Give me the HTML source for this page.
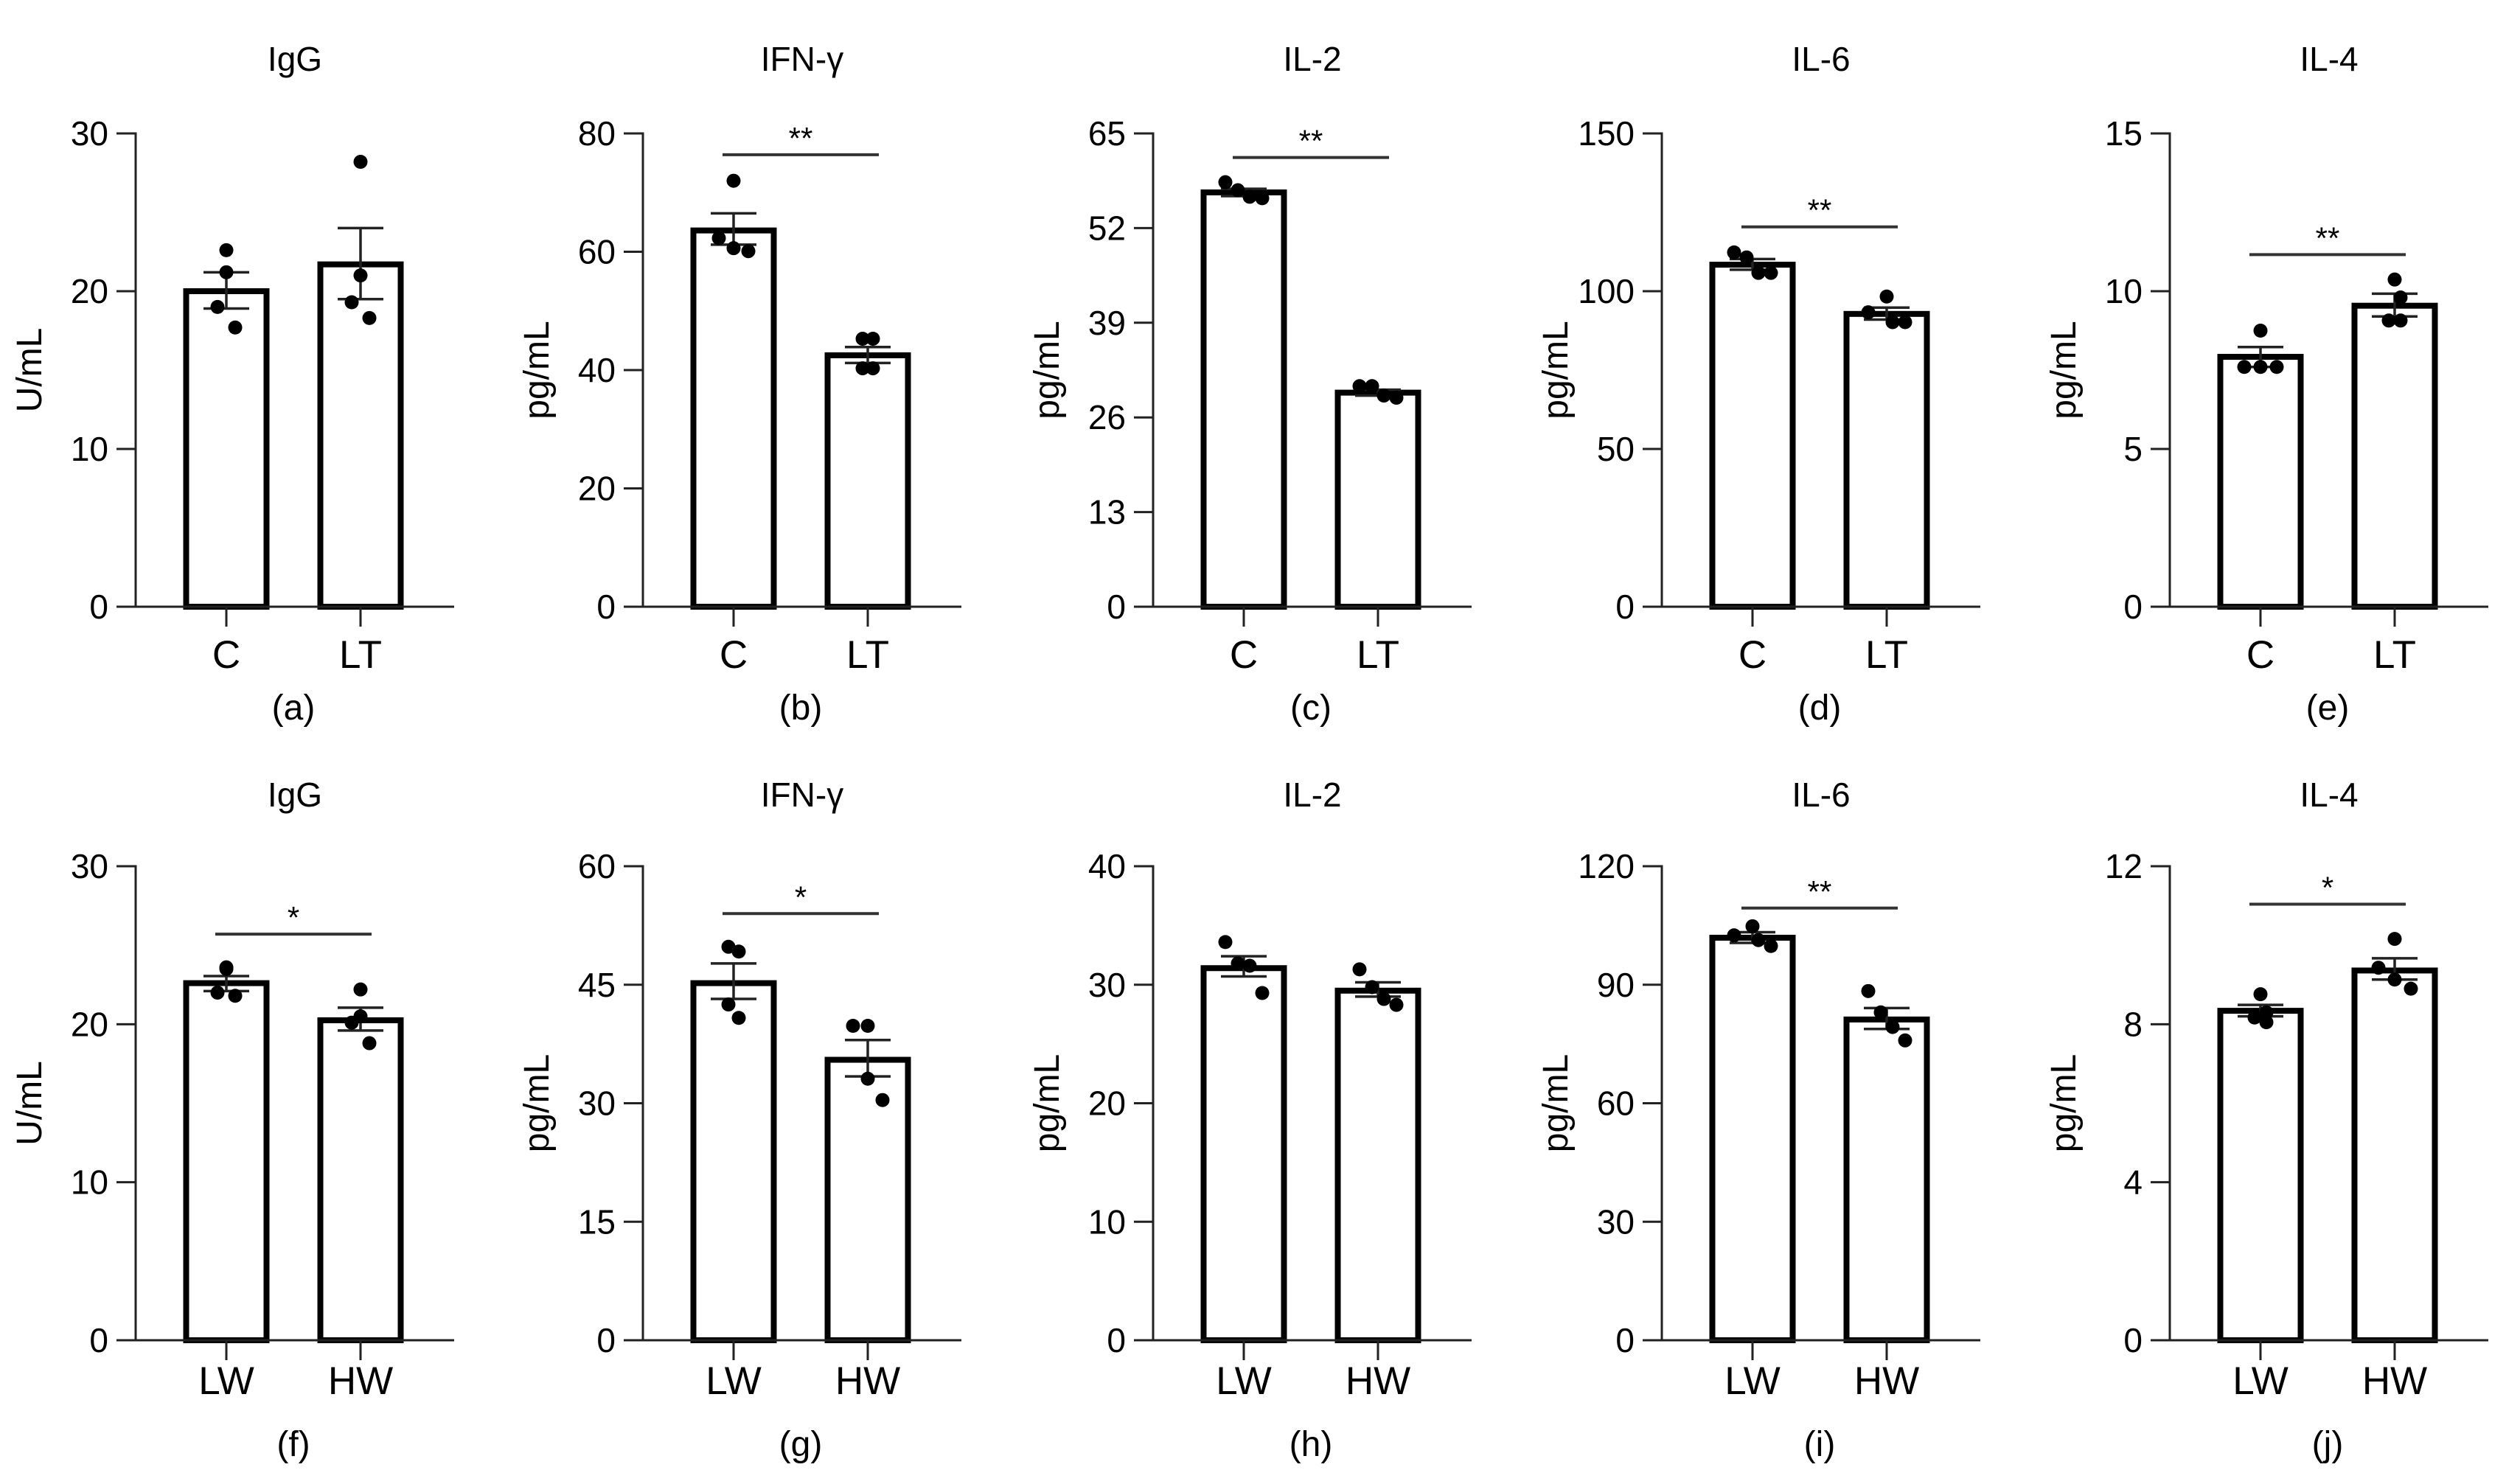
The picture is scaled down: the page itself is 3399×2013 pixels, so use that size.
<!DOCTYPE html>
<html><head><meta charset="utf-8">
<style>
html,body{margin:0;padding:0;background:#fff;}
svg{display:block;font-family:"Liberation Sans",Arial,sans-serif;}
</style></head>
<body>
<svg id="fig" width="3399" height="2013" viewBox="0 0 3399 2013" xmlns="http://www.w3.org/2000/svg"></svg>
<script>
const titles = ["IgG","IFN-γ","IL-2","IL-6","IL-4","IgG","IFN-γ","IL-2","IL-6","IL-4"];
const panelLetters = ["(a)","(b)","(c)","(d)","(e)","(f)","(g)","(h)","(i)","(j)"];
const yLabels = ["U/mL","pg/mL","pg/mL","pg/mL","pg/mL","U/mL","pg/mL","pg/mL","pg/mL","pg/mL"];
const catsTop = ["C","LT"];
const catsBottom = ["LW","HW"];
const yMax = [30,80,65,150,15,30,60,40,120,12];
const yStep = [10,20,13,50,5,10,15,10,30,4];
const means1 = [20.0,63.6,56.9,108.4,7.92,22.6,45.2,31.4,101.9,8.34];
const errLo1 = [18.9,61.2,56.4,106.8,7.6,22.1,43.2,30.7,100.6,8.2];
const errHi1 = [21.2,66.5,57.4,110.2,8.23,23.05,47.7,32.4,103.3,8.49];
const means2 = [21.7,42.5,29.4,92.8,9.54,20.25,35.5,29.5,81.2,9.36];
const errLo2 = [19.5,41.2,29.0,91.0,9.2,19.6,33.4,29.0,78.8,9.13];
const errHi2 = [24.0,43.9,29.8,94.8,9.92,21.05,38.0,30.2,84.1,9.67];
const pts1 = [[22.6,21.2,19.0,17.7],[72,62.3,60.6,60.1],[58.3,57.2,56.3,56.1],[112.3,110.7,105.8,105.8],[8.75,7.6,7.6,7.6],
              [23.6,23.5,22.0,21.8],[49.8,49.2,42.5,40.8],[33.6,31.8,31.6,29.3],[104.8,102.5,101.3,99.8],[8.76,8.3,8.17,8.05]];
const pts2 = [[28.2,21.0,19.3,18.3],[45.3,45.3,40.3,40.3],[30.3,30.3,29.0,28.7],[98.3,93.3,90.2,90.2],[10.37,9.8,9.07,9.07],
              [22.2,20.5,20.1,18.8],[39.8,39.8,33.1,30.4],[31.3,29.8,28.8,28.3],[88.4,83.0,79.3,75.9],[10.16,9.43,9.13,8.9]];
const sigLevel = [null,76.4,61.7,120.4,11.16,25.7,54,null,109.4,11.04];
const sigText = ["","**","**","**","**","*","*","","**","*"];

const NS="http://www.w3.org/2000/svg";
const svg=document.getElementById('fig');
const axX=[184,872,1564,2254,2943];
const rowTop=[181,1175], rowZero=[823,1818];
const catLabelY=[906,1891], letterY=[976,1975], titleY=[96,1094];
const jitter1=[[0,0,-12,12],[0,-20,0,20],[-25,-8,8,25],[-25,-8,8,25],[0,-22,0,22]];
const jitter2=[[0,0,-12,12],[-7,7,-7,7],[-25,-8,8,25],[0,-25,8,25],[0,8,-8,8]];

function el(tag,attrs,parent){const e=document.createElementNS(NS,tag);for(const k in attrs)e.setAttribute(k,attrs[k]);(parent||svg).appendChild(e);return e;}

for(let p=0;p<10;p++){
  const row=Math.floor(p/5), col=p%5;
  const ax=axX[col], top=rowTop[row], zero=rowZero[row];
  const ys=v=>zero-(v/yMax[p])*(zero-top);
  const g=el('g',{});
  
  
  const t=el('text',{x:ax+216,y:titleY[row],'text-anchor':'middle','font-size':46},g);
  t.textContent=titles[p];
  
  
  const ya=el('line',{x1:ax,y1:top-1.5,x2:ax,y2:zero,stroke:'#222','stroke-width':3},g);
  
  
  for(let v=0;v<=yMax[p]+1e-9;v+=yStep[p]){
    const y=ys(v);
    el('line',{x1:ax-26,y1:y,x2:ax,y2:y,stroke:'#222','stroke-width':3},g);
    const tl=el('text',{x:ax-37,y:y+16,'text-anchor':'end','font-size':46},g);
    tl.textContent=String(Math.round(v));
    
    
  }
  const yl=el('text',{transform:`translate(${ax-128},${(top+zero)/2}) rotate(-90)`,'text-anchor':'middle','font-size':48},g);
  yl.textContent=yLabels[p];
  
  
  const centers=[ax+123,ax+305];
  const cats=row===0?catsTop:catsBottom;
  const means=[means1[p],means2[p]], lo=[errLo1[p],errLo2[p]], hi=[errHi1[p],errHi2[p]], pts=[pts1[p],pts2[p]];
  const jit=[row===0?jitter1[col]:jitter2[col], row===0?jitter2[col]:jitter1[col]];
  for(let b=0;b<2;b++){
    const cx=centers[b], yt=ys(means[b]);
    const r=el('rect',{x:cx-54.5,y:yt,width:109,height:zero-yt,fill:'#fff',stroke:'#000','stroke-width':8},g);
    
    
    el('line',{x1:cx,y1:ys(hi[b]),x2:cx,y2:ys(lo[b]),stroke:'#222','stroke-width':3.5},g);
    el('line',{x1:cx-31,y1:ys(hi[b]),x2:cx+31,y2:ys(hi[b]),stroke:'#222','stroke-width':3.5},g);
    el('line',{x1:cx-31,y1:ys(lo[b]),x2:cx+31,y2:ys(lo[b]),stroke:'#222','stroke-width':3.5},g);
    pts[b].forEach((v,i)=>{
      const c=el('circle',{cx:cx+jit[b][i],cy:ys(v),r:9.5,fill:'#000'},g);
      
      
    });
    el('line',{x1:cx,y1:zero,x2:cx,y2:zero+27,stroke:'#222','stroke-width':3},g);
    const cl=el('text',{x:cx,y:catLabelY[row],'text-anchor':'middle','font-size':53},g);
    cl.textContent=cats[b];
    
    
  }
  const xa=el('line',{x1:ax-26,y1:zero,x2:ax+432,y2:zero,stroke:'#222','stroke-width':3},g);
  
  
  if(sigLevel[p]!==null){
    const sy=ys(sigLevel[p]);
    const sl=el('line',{x1:centers[0]-15,y1:sy,x2:centers[1]+15,y2:sy,stroke:'#333','stroke-width':4},g);
    
    
    const st=el('text',{x:(centers[0]+centers[1])/2,y:sy-8,'text-anchor':'middle','font-size':42},g);
    st.textContent=sigText[p];
    
    
  }
  const pl=el('text',{x:ax+214,y:letterY[row],'text-anchor':'middle','font-size':48},g);
  pl.textContent=panelLetters[p];
  
  
}
</script>
</body></html>
